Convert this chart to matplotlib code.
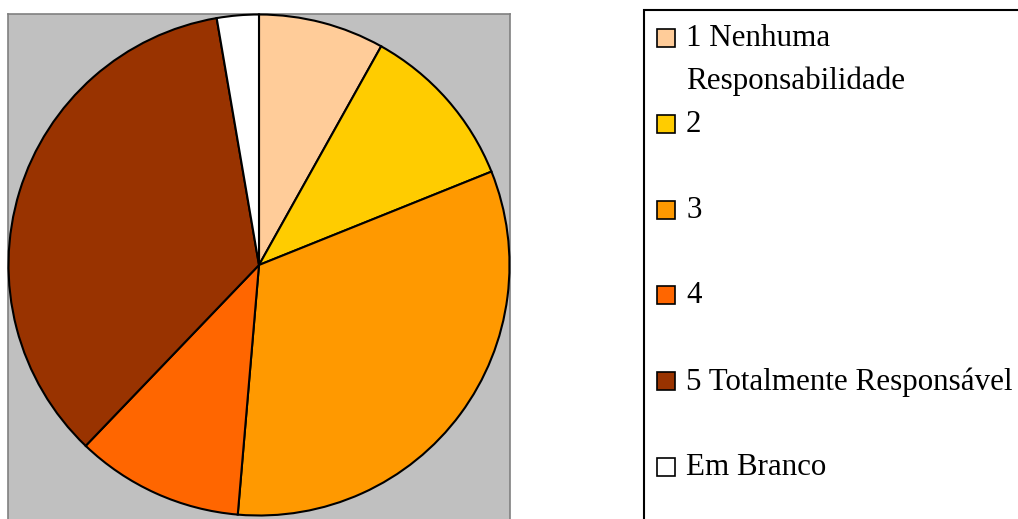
import matplotlib
matplotlib.use("Agg")
import matplotlib.pyplot as plt
from matplotlib.patches import Rectangle

# respostas (contagens)
labels = ["1 Nenhuma\nResponsabilidade", "2", "3", "4", "5 Totalmente Responsável", "Em Branco"]
counts = [3, 4, 12, 4, 13, 1]
colors = ["#FFCC99", "#FFCC00", "#FF9900", "#FF6600", "#993300", "#FFFFFF"]

W, H = 1018, 519
plt.rcParams['font.family'] = ['Liberation Serif', 'DejaVu Serif']

fig = plt.figure(figsize=(W / 100, H / 100), dpi=100)

# plot area (gray), pixel-unit data coords
ax = fig.add_axes([8 / W, -10 / H, 502 / W, (H - 14 + 10) / H])
wedges, _ = ax.pie(counts, colors=colors, startangle=90, counterclock=False,
                   center=(259, H - 265), radius=250.5, frame=True,
                   wedgeprops=dict(edgecolor="black", linewidth=1.5))
for w in wedges:
    w.set_clip_on(False)
ax.set_aspect("auto")
ax.set_xlim(8, 510)
ax.set_ylim(-10, H - 14)
ax.set_facecolor("#C0C0C0")
for s in ax.spines.values():
    s.set_color("#808080")
    s.set_linewidth(1.2)
    s.set_zorder(0)
ax.set_xticks([])
ax.set_yticks([])

# legend box drawn by hand so the two-line first entry keeps its handle on line 1
fig.patches.append(Rectangle((644 / W, -5 / H), 400 / W, (H - 10 + 5) / H,
                             transform=fig.transFigure, facecolor="white",
                             edgecolor="black", linewidth=1.5, zorder=0))
y0, step = 38, 85.8
for i, (lab, col) in enumerate(zip(labels, colors)):
    yc = y0 + i * step
    fig.patches.append(Rectangle((657 / W, (H - yc - 9) / H), 18 / W, 18 / H,
                                 transform=fig.transFigure, facecolor=col,
                                 edgecolor="black", linewidth=1.2, zorder=2))
    fig.text(686 / W, (H - yc + 14) / H, lab, fontsize=22.3, va="top",
             ha="left", linespacing=1.62, zorder=3)

fig.savefig("out.png", dpi=100)
